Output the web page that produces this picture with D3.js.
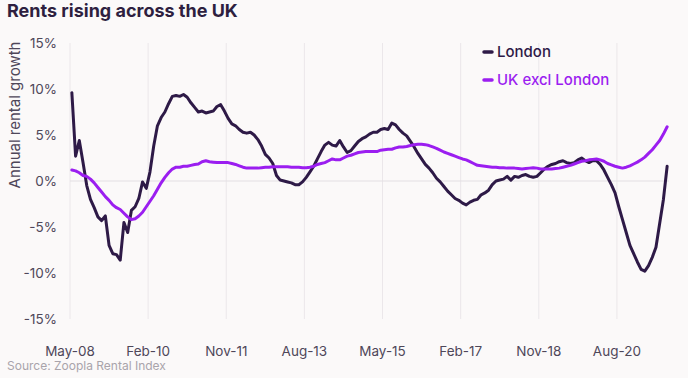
<!DOCTYPE html>
<html>
<head>
<meta charset="utf-8">
<script src="https://cdn.jsdelivr.net/npm/d3@7"></script>
<style>
  html, body { margin: 0; padding: 0; background: #fbf9f9; }
  svg { display: block; font-family: "Inter", "Lato", sans-serif; }
</style>
</head>
<body>
<svg id="chart" width="688" height="378"></svg>
<script>
// ---- Data ----
const startMonth = new Date(2008, 4, 1); // May 2008
const monthCount = 161;                  // May-08 .. Sep-21

const london = [
  9.6, 2.7, 4.4, 2.0, -0.5, -2.0, -2.9, -3.9, -4.3, -3.8,
  -7.0, -7.9, -8.0, -8.6, -4.5, -5.6, -3.2, -2.8, -1.9, -0.1,
  -0.8, 1.0, 3.8, 6.0, 6.9, 7.5, 8.4, 9.2, 9.3, 9.2,
  9.4, 9.1, 8.5, 8.0, 7.5, 7.6, 7.4, 7.5, 7.6, 8.1,
  8.3, 7.6, 6.8, 6.2, 6.0, 5.6, 5.3, 5.2, 5.3, 5.0,
  4.5, 3.8, 2.9, 2.5, 1.9, 0.6, 0.1, 0.0, -0.1, -0.2,
  -0.4, -0.4, -0.1, 0.4, 1.0, 1.6, 2.4, 3.2, 3.9, 4.2,
  3.9, 3.8, 4.4, 3.7, 3.1, 3.3, 3.8, 4.3, 4.6, 4.8,
  5.1, 5.3, 5.3, 5.6, 5.7, 5.6, 6.3, 6.1, 5.6, 5.2,
  4.9, 4.3, 3.7, 3.0, 2.4, 1.8, 1.4, 0.9, 0.3, -0.1,
  -0.6, -1.1, -1.5, -1.9, -2.1, -2.4, -2.6, -2.3, -2.1, -2.0,
  -1.5, -1.3, -1.0, -0.4, 0.0, 0.1, 0.2, 0.5, 0.1, 0.5,
  0.4, 0.6, 0.7, 0.5, 0.4, 0.5, 0.9, 1.3, 1.6, 1.8,
  1.9, 2.1, 2.2, 2.0, 1.9, 2.0, 2.3, 2.5, 2.2, 2.0,
  2.2, 2.2, 1.8, 1.2, 0.4, -0.4, -1.3, -2.8, -4.2, -5.6,
  -7.0, -7.9, -8.8, -9.6, -9.8, -9.2, -8.3, -7.2, -4.6, -2.0,
  1.6
];

const ukExclLondon = [
  1.2, 1.1, 0.9, 0.6, 0.5, 0.2, -0.2, -0.7, -1.2, -1.7,
  -2.1, -2.6, -2.9, -3.1, -3.5, -3.9, -4.2, -4.1, -3.8, -3.4,
  -2.8, -2.2, -1.6, -0.9, -0.2, 0.4, 0.9, 1.3, 1.5, 1.5,
  1.6, 1.6, 1.7, 1.8, 1.85, 2.1, 2.2, 2.1, 2.05, 2.0,
  2.0, 2.0, 2.0, 1.9, 1.8, 1.65, 1.5, 1.4, 1.4, 1.4,
  1.4, 1.45, 1.5, 1.5, 1.55, 1.55, 1.55, 1.55, 1.55, 1.5,
  1.5, 1.5, 1.45, 1.45, 1.5, 1.6, 1.8, 1.9, 2.0, 2.2,
  2.4, 2.3, 2.3, 2.5, 2.7, 2.8, 2.95, 3.1, 3.15, 3.2,
  3.2, 3.2, 3.2, 3.35, 3.4, 3.45, 3.45, 3.6, 3.7, 3.7,
  3.75, 3.85, 3.95, 4.0, 4.0, 3.95, 3.85, 3.7, 3.55, 3.35,
  3.15, 3.0, 2.85, 2.7, 2.55, 2.4, 2.3, 2.1, 1.9, 1.7,
  1.65, 1.6, 1.55, 1.5, 1.5, 1.45, 1.45, 1.4, 1.4, 1.4,
  1.35, 1.3, 1.35, 1.4, 1.45, 1.4, 1.3, 1.3, 1.3, 1.3,
  1.35, 1.4, 1.5, 1.6, 1.7, 1.85, 2.0, 2.15, 2.2, 2.3,
  2.35, 2.4, 2.3, 2.15, 1.9, 1.75, 1.6, 1.5, 1.4, 1.5,
  1.65, 1.85, 2.05, 2.3, 2.6, 3.0, 3.4, 3.9, 4.4, 5.1,
  5.9
];

const xTickLabels = ["May-08", "Feb-10", "Nov-11", "Aug-13", "May-15", "Feb-17", "Nov-18", "Aug-20"];
const yTicks = [15, 10, 5, 0, -5, -10, -15];
const seriesNames = ["London", "UK excl London"];
const seriesColors = ["#2e1a47", "#9b1ef0"];

// ---- Layout ----
const fmt = d3.timeFormat("%b-%y");
const months = d3.range(monthCount).map(i => fmt(d3.timeMonth.offset(startMonth, i)));

const svg = d3.select("#chart");
const plot = { left: 70, right: 669, top: 43, bottom: 319 };

const x = d3.scaleBand().domain(months).range([plot.left, plot.right]).padding(0);
const y = d3.scaleLinear().domain([-15, 15]).range([plot.bottom, plot.top]);

// Title
svg.append("text")
  .attr("x", 7).attr("y", 17)
  .attr("font-size", 18).attr("font-weight", 700)
  .attr("fill", "#2e1f40")
  .text("Rents rising across the UK");

// Vertical gridlines at tick categories
const gridG = svg.append("g");
gridG.selectAll("line")
  .data(xTickLabels)
  .join("line")
  .attr("x1", d => x(d)).attr("x2", d => x(d))
  .attr("y1", plot.top).attr("y2", plot.bottom)
  .attr("stroke", "#ebe7ea").attr("stroke-width", 1);

// Zero line
svg.append("line")
  .attr("x1", plot.left).attr("x2", plot.right)
  .attr("y1", y(0)).attr("y2", y(0))
  .attr("stroke", "#e3dfe3").attr("stroke-width", 1);

// Y axis labels
const yAxis = d3.axisLeft(y).tickValues(yTicks).tickFormat(d => d + "%").tickSize(0).tickPadding(13);
const yg = svg.append("g").attr("transform", `translate(${plot.left},0)`).call(yAxis);
yg.select(".domain").remove();
yg.selectAll("text").attr("font-size", 13.5).attr("fill", "#4f4759").attr("font-family", "Inter, Lato, sans-serif");

// X axis labels
const xAxis = d3.axisBottom(x).tickValues(xTickLabels).tickSize(0).tickPadding(0);
const xg = svg.append("g").attr("transform", `translate(0,${plot.bottom + 27})`).call(xAxis);
xg.select(".domain").remove();
xg.selectAll(".tick").attr("transform", d => `translate(${x(d)},0)`);
xg.selectAll("text").attr("font-size", 13.5).attr("fill", "#4f4759").attr("font-family", "Inter, Lato, sans-serif");

// Y axis title
svg.append("text")
  .attr("transform", `translate(20,${115}) rotate(-90)`)
  .attr("text-anchor", "middle")
  .attr("font-size", 15).attr("fill", "#4f4759")
  .text("Annual rental growth");

// Lines
const line = d3.line()
  .x((d, i) => x(months[i]) + x.bandwidth() / 2)
  .y(d => y(d));

[london, ukExclLondon].forEach((s, k) => {
  svg.append("path")
    .datum(s)
    .attr("fill", "none")
    .attr("stroke", seriesColors[k])
    .attr("stroke-width", 3)
    .attr("stroke-linejoin", "round")
    .attr("stroke-linecap", "round")
    .attr("d", line);
});

// Legend
const legend = svg.append("g").attr("transform", "translate(483,52)");
seriesNames.forEach((name, k) => {
  const g = legend.append("g").attr("transform", `translate(0,${k * 28})`);
  g.append("line").attr("x1", 1).attr("x2", 9).attr("y1", 0).attr("y2", 0)
    .attr("stroke", seriesColors[k]).attr("stroke-width", 3.5).attr("stroke-linecap", "round");
  g.append("text").attr("x", 14).attr("y", 5)
    .attr("font-size", 15).attr("font-weight", 500)
    .attr("fill", seriesColors[k]).text(name);
});

// Source
svg.append("text")
  .attr("x", 7).attr("y", 370)
  .attr("font-size", 12).attr("fill", "#a9a4ab")
  .text("Source: Zoopla Rental Index");
</script>
</body>
</html>
